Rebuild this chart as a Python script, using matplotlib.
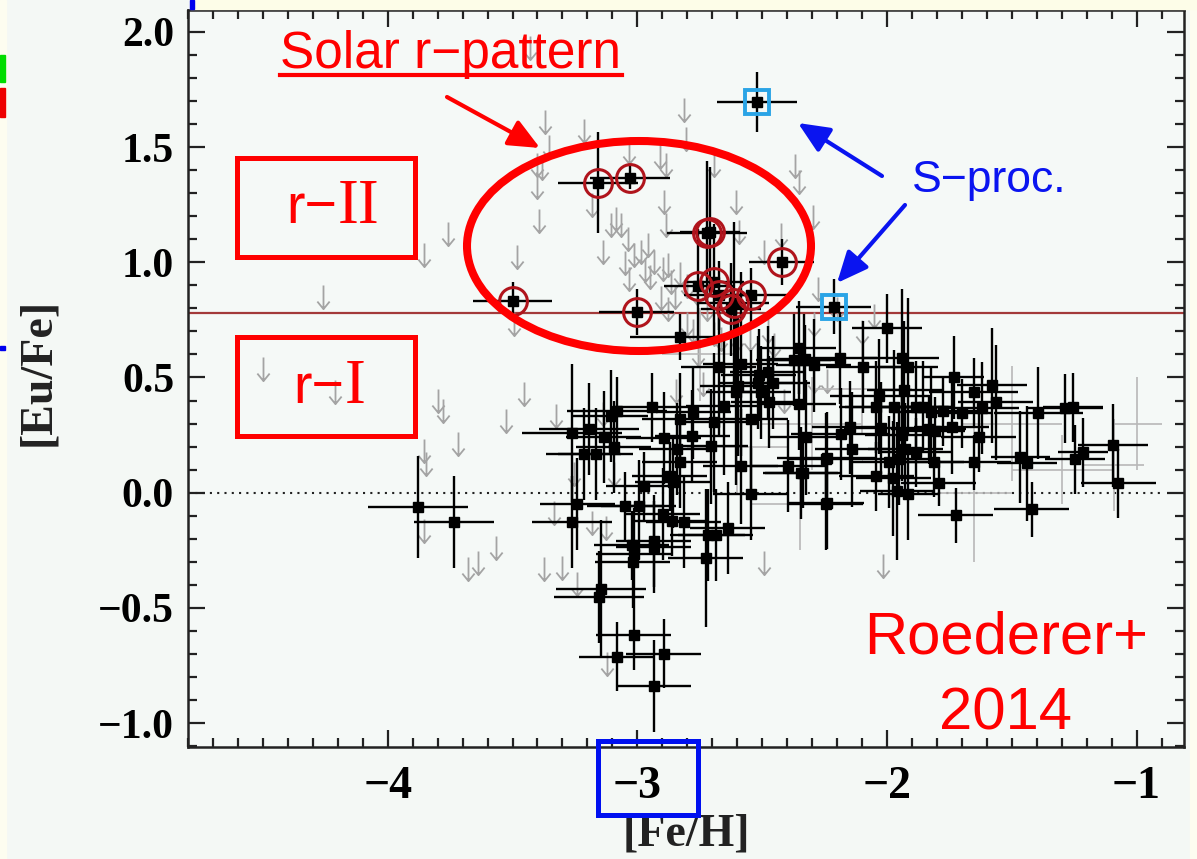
import matplotlib
matplotlib.use("Agg")
import matplotlib.pyplot as plt
from matplotlib.path import Path
from matplotlib.patches import Rectangle, Ellipse, FancyArrowPatch
from matplotlib.ticker import MultipleLocator

# ---------------- data ----------------
# detections: [Fe/H], [Eu/Fe], xerr, yerr
det_x = [-2.83, -2.0, -2.19, -2.094, -1.94, -1.917, -2.294, -2.33, -1.733, -1.653,
         -1.58, -1.565, -1.62, -1.393, -1.285, -1.253, -1.093, -1.213, -1.245, -1.073,
         -1.465, -1.44, -1.633, -1.653, -1.813, -1.793, -1.725, -1.42, -2.242, -2.242,
         -2.326, -2.338, -2.138, -2.15, -2.186, -2.042, -2.022, -2.03, -2.042, -1.97,
         -1.93, -1.885, -1.857, -1.825, -1.777, -1.70, -1.74, -1.833, -1.806, -1.938,
         -1.926, -1.885, -1.95, -1.99, -1.974, -1.958, -1.917, -3.88, -3.736, -3.26,
         -3.24, -3.26, -3.195, -3.215, -3.167, -3.135, -3.107, -3.08, -3.095, -2.943,
         -2.895, -2.83, -2.843, -2.83, -2.775, -2.78, -2.706, -2.694, -2.654, -2.606,
         -2.598, -2.518, -2.506, -2.458, -2.474, -2.546, -2.354, -2.586, -2.398, -2.346,
         -2.246, -2.246, -2.546, -2.975, -2.87, -2.859, -3.051, -2.995, -2.899, -2.863,
         -2.815, -2.718, -2.686, -2.638, -2.726, -3.023, -3.015, -3.019, -2.935, -2.935,
         -3.147, -3.155, -3.015, -3.083, -2.895, -2.935, -2.354, -2.374, -2.334, -2.674,
         -2.586, -2.514, -2.478]
det_y = [0.674, 0.713, 0.583, 0.544, 0.583, 0.544, 0.552, 0.578, 0.50, 0.435,
         0.466, 0.392, 0.366, 0.344, 0.366, 0.37, 0.205, 0.175, 0.145, 0.04,
         0.153, 0.127, 0.24, 0.132, 0.132, 0.04, -0.098, -0.072, 0.149, -0.046,
         0.24, 0.084, 0.188, 0.283, 0.253, 0.071, 0.279, 0.418, 0.37, 0.37,
         0.444, 0.37, 0.37, 0.348, 0.353, 0.344, 0.283, 0.275, 0.266, 0.249,
         0.188, 0.175, 0.145, 0.132, 0.062, 0.006, -0.007, -0.063, -0.128, 0.258,
         -0.05, -0.128, 0.275, 0.166, 0.166, 0.24, 0.331, 0.353, 0.197, 0.37,
         0.236, 0.318, 0.188, 0.132, 0.348, 0.244, 0.201, 0.305, 0.375, 0.435,
         0.461, 0.478, 0.435, 0.478, 0.392, 0.318, 0.383, 0.114, 0.114, 0.084,
         0.145, -0.05, -0.007, 0.028, 0.071, 0.045, -0.059, -0.059, -0.094, -0.124,
         -0.128, -0.185, -0.185, -0.154, -0.284, -0.228, -0.267, -0.302, -0.211, -0.237,
         -0.419, -0.453, -0.618, -0.713, -0.70, -0.839, 0.63, 0.574, 0.574, 0.544,
         0.557, 0.509, 0.522]
det_xerr = [0.20, 0.14, 0.15, 0.15, 0.15, 0.12, 0.15, 0.15, 0.12, 0.18,
            0.14, 0.15, 0.15, 0.18, 0.15, 0.12, 0.14, 0.10, 0.12, 0.15,
            0.12, 0.12, 0.15, 0.15, 0.12, 0.15, 0.15, 0.15, 0.20, 0.15,
            0.15, 0.15, 0.15, 0.15, 0.20, 0.15, 0.15, 0.20, 0.15, 0.20,
            0.15, 0.15, 0.12, 0.15, 0.15, 0.12, 0.15, 0.15, 0.12, 0.15,
            0.15, 0.15, 0.15, 0.15, 0.15, 0.15, 0.12, 0.20, 0.16, 0.20,
            0.15, 0.16, 0.20, 0.15, 0.15, 0.15, 0.15, 0.20, 0.15, 0.15,
            0.15, 0.15, 0.15, 0.15, 0.15, 0.15, 0.15, 0.15, 0.15, 0.12,
            0.15, 0.15, 0.12, 0.15, 0.15, 0.15, 0.15, 0.15, 0.15, 0.15,
            0.15, 0.15, 0.15, 0.15, 0.15, 0.15, 0.15, 0.15, 0.15, 0.15,
            0.15, 0.15, 0.15, 0.15, 0.15, 0.15, 0.15, 0.15, 0.15, 0.15,
            0.18, 0.18, 0.15, 0.15, 0.15, 0.15, 0.15, 0.15, 0.15, 0.15,
            0.15, 0.15, 0.15]
det_yerr = [0.10, 0.15, 0.20, 0.20, 0.30, 0.30, 0.20, 0.15, 0.18, 0.15,
            0.25, 0.25, 0.20, 0.20, 0.15, 0.15, 0.18, 0.15, 0.15, 0.15,
            0.20, 0.25, 0.15, 0.12, 0.15, 0.10, 0.12, 0.12, 0.20, 0.20,
            0.25, 0.15, 0.25, 0.20, 0.20, 0.15, 0.20, 0.25, 0.20, 0.25,
            0.30, 0.20, 0.20, 0.20, 0.15, 0.15, 0.20, 0.15, 0.15, 0.20,
            0.20, 0.15, 0.20, 0.20, 0.25, 0.30, 0.20, 0.22, 0.20, 0.30,
            0.20, 0.20, 0.20, 0.20, 0.20, 0.20, 0.20, 0.15, 0.20, 0.15,
            0.20, 0.20, 0.20, 0.20, 0.20, 0.20, 0.25, 0.30, 0.30, 0.40,
            0.30, 0.20, 0.20, 0.20, 0.20, 0.30, 0.20, 0.25, 0.20, 0.20,
            0.20, 0.20, 0.20, 0.15, 0.15, 0.20, 0.15, 0.20, 0.20, 0.15,
            0.20, 0.20, 0.20, 0.20, 0.30, 0.15, 0.20, 0.20, 0.20, 0.20,
            0.30, 0.20, 0.15, 0.15, 0.15, 0.20, 0.20, 0.20, 0.20, 0.30,
            0.40, 0.20, 0.20]

# r-II stars (circled)
r2_x = [-3.50, -3.159, -3.031, -2.722, -2.71, -3.003, -2.755, -2.694, -2.674, -2.614, -2.626, -2.546, -2.422]
r2_y = [0.834, 1.345, 1.367, 1.129, 1.133, 0.786, 0.895, 0.916, 0.856, 0.825, 0.795, 0.856, 1.000]
r2_xerr = [0.16, 0.16, 0.16, 0.16, 0.12, 0.15, 0.14, 0.12, 0.14, 0.14, 0.12, 0.15, 0.13]
r2_yerr = [0.08, 0.22, 0.05, 0.31, 0.28, 0.10, 0.25, 0.25, 0.15, 0.35, 0.20, 0.12, 0.10]

# s-process enriched stars (squared)
s_x = [-2.522, -2.214]
s_y = [1.697, 0.808]
s_xerr = [0.16, 0.15]
s_yerr = [0.13, 0.12]

# upper limits (top of arrow)
ul_x = [-4.26, -4.50, -4.21, -3.37, -3.355, -3.40, -3.38, -3.403, -3.395, -3.215,
        -2.815, -2.803, -2.91, -2.887, -2.895, -2.887, -3.035, -2.694, -2.606, -2.594,
        -2.354, -2.298, -3.76, -3.856, -3.483, -3.18, -3.139, -3.107, -3.087, -3.067,
        -3.039, -3.015, -2.987, -2.959, -2.935, -2.899, -2.879, -2.867, -3.035, -3.495,
        -2.907, -2.879, -2.799, -2.775, -2.494, -2.426, -2.278, -2.294, -2.478, -2.454,
        -2.694, -2.666, -2.755, -3.80, -3.78, -3.455, -3.527, -3.327, -3.72, -3.856,
        -3.848, -3.856, -3.567, -3.64, -3.68, -3.375, -3.30, -3.24, -3.12, -2.494,
        -3.335, -3.18, -3.127, -2.735, -2.847, -3.139, -3.095, -3.255, -3.095, -2.414,
        -2.294, -2.24, -2.014, -3.43, -2.83, -2.80, -2.76, -2.85, -2.72, -2.60,
        -2.55, -2.20, -2.10, -2.05, -2.37, -2.95, -2.97, -3.05]
ul_y = [0.903, 0.587, 0.49, 1.66, 1.553, 1.475, 1.46, 1.38, 1.23, 1.62,
        1.714, 1.588, 1.51, 1.475, 1.315, 1.215, 1.532, 1.475, 1.315, 1.185,
        1.402, 1.25, 1.176, 1.085, 1.077, 1.30, 1.098, 1.215, 1.241, 1.215,
        1.155, 1.085, 1.098, 1.129, 1.055, 1.025, 1.042, 0.968, 0.981, 0.782,
        0.895, 0.851, 0.782, 0.752, 1.098, 1.172, 0.938, 0.782, 0.752, 0.695,
        0.739, 0.717, 0.652, 0.448, 0.405, 0.479, 0.362, 0.383, 0.262, 0.231,
        0.175, -0.115, -0.189, -0.254, -0.28, -0.28, -0.276, -0.345, -0.692, -0.254,
        -0.037, -0.08, -0.102, 0.522, 0.492, 0.392, 0.275, 0.132, 0.132, 0.448,
        0.535, 0.535, -0.267, 1.98, 1.00, 0.95, 0.92, 0.90, 0.85, 0.72,
        0.72, 0.85, 0.75, 0.82, 1.47, 0.99, 1.02, 1.05]

# faint (grey) detections, error bars only
gr_x = [-1.09, -1.30, -1.50, -1.65, -2.10, -2.30, -2.60, -2.75, -1.00, -2.35]
gr_y = [0.12, 0.10, 0.30, 0.00, 0.45, 0.30, 0.20, 0.60, 0.30, -0.05]
gr_xerr = [0.12, 0.20, 0.20, 0.15, 0.20, 0.20, 0.20, 0.15, 0.10, 0.20]
gr_yerr = [0.20, 0.15, 0.25, 0.30, 0.20, 0.20, 0.20, 0.20, 0.20, 0.20]

x_ticks = [-4, -3, -2, -1]
y_ticks = [-1.0, -0.5, 0.0, 0.5, 1.0, 1.5, 2.0]
r_threshold = 0.78

# ---------------- figure ----------------
W, H = 1197, 859
fig = plt.figure(figsize=(W / 100, H / 100), dpi=100)
BG = '#f4f8f5'
fig.patch.set_facecolor(BG)

def fx(px):
    return px / W

def fy(py):
    return 1 - py / H

# frame strips of the slide
fig.patches.append(Rectangle((0, 0), fx(6), 1, transform=fig.transFigure, color='#fdfdf0', zorder=0))
fig.patches.append(Rectangle((fx(1190), 0), 1, 1, transform=fig.transFigure, color='#fdfdf0', zorder=0))
fig.patches.append(Rectangle((fx(190), fy(9)), 1, 1, transform=fig.transFigure, color='#fdfde8', zorder=0))
fig.patches.append(Rectangle((0, fy(82)), fx(5), 27 / H, transform=fig.transFigure, color='#00dd00', zorder=1))
fig.patches.append(Rectangle((0, fy(117)), fx(5), 29 / H, transform=fig.transFigure, color='#ee0000', zorder=1))
fig.patches.append(Rectangle((0, fy(350)), fx(5), 4 / H, transform=fig.transFigure, color='#0000ee', zorder=1))
fig.patches.append(Rectangle((fx(190), fy(9)), fx(4), 9 / H, transform=fig.transFigure, color='#0000ee', zorder=1))

ax = fig.add_axes([fx(188), fy(747), fx(1184) - fx(188), fy(10) - fy(747)])
ax.set_facecolor('#f5f9f7')
ax.set_xlim(-4.80, -0.81)
ax.set_ylim(-1.104, 2.095)

SERIF = 'Liberation Serif'
ax.set_xticks(x_ticks)
ax.set_xticklabels([f'\u2212{abs(v)}' for v in x_ticks], fontsize=33, family=SERIF, weight='bold')
ax.set_yticks(y_ticks)
ax.set_yticklabels([(f'\u2212{abs(v):.1f}' if v < 0 else f'{v:.1f}') for v in y_ticks],
                   fontsize=30, family=SERIF, weight='bold')
ax.xaxis.set_minor_locator(MultipleLocator(0.1))
ax.yaxis.set_minor_locator(MultipleLocator(0.1))
ax.tick_params(which='both', direction='in', top=True, right=True, width=1.6, color='#222222')
ax.tick_params(which='major', length=12)
ax.tick_params(which='minor', length=6.5)
ax.tick_params(axis='x', which='major', pad=14)
ax.tick_params(axis='y', which='major', pad=10)
for s in ax.spines.values():
    s.set_linewidth(1.8)
    s.set_color('#222222')

# reference lines
ax.plot([-4.80, -0.90], [0, 0], ls=(0, (1, 2.5)), color='#222222', lw=1.5, zorder=1)
ax.axhline(r_threshold, color='#a33a3a', lw=1.6, zorder=1)

# upper limit arrows
arrow_path = Path([(0, 0), (0, -1), (-0.26, -0.68), (0, -1), (0.26, -0.68)],
                  [Path.MOVETO, Path.LINETO, Path.MOVETO, Path.LINETO, Path.LINETO])
ax.plot(ul_x, ul_y, ls='none', marker=arrow_path, markersize=34, markerfacecolor='none',
        markeredgecolor='#a4a4a4', markeredgewidth=1.3, zorder=2)

# faint grey error bars
ax.errorbar(gr_x, gr_y, xerr=gr_xerr, yerr=gr_yerr, fmt='none', ecolor='#b8b8b8', elinewidth=1.2, zorder=2)

# detections
for xs, ys, xe, ye in [(det_x, det_y, det_xerr, det_yerr),
                       (r2_x, r2_y, r2_xerr, r2_yerr),
                       (s_x, s_y, s_xerr, s_yerr)]:
    ax.errorbar(xs, ys, xerr=xe, yerr=ye, fmt='s', color='black', ms=7,
                elinewidth=1.7, capsize=0, zorder=4)
ax.plot(r2_x, r2_y, ls='none', marker='o', ms=20, mfc='none', mec='#b0141c', mew=2.2, zorder=5)
ax.plot(s_x, s_y, ls='none', marker='s', ms=17, mfc='none', mec='#2aa4e6', mew=2.8, zorder=5)

# axis labels
fig.text(fx(38), fy(372), '[Eu/Fe]', rotation=90, fontsize=33, family=SERIF, weight='bold',
         ha='center', va='center', color='#222222')
fig.text(fx(686), fy(835), '[Fe/H]', fontsize=33, family=SERIF, weight='bold',
         ha='center', va='center', color='#222222')

# annotations
SANS = ['Liberation Sans', 'DejaVu Sans']
RED = '#ff0000'
BLUE = '#0a14f0'
fig.text(fx(451), fy(68), 'Solar r\u2212pattern', fontsize=37, family=SANS, color=RED,
         ha='center', va='baseline')
fig.add_artist(plt.Line2D([fx(280), fx(622)], [fy(75), fy(75)], color=RED, lw=3,
                          transform=fig.transFigure))
fig.patches.append(Ellipse((fx(639), fy(246)), 344 / W, 210 / H, transform=fig.transFigure,
                           fill=False, edgecolor=RED, lw=5.8, zorder=6))
fig.patches.append(Rectangle((fx(237), fy(257)), 178 / W, 99 / H, transform=fig.transFigure,
                             fill=False, edgecolor=RED, lw=3.6, zorder=6))
fig.patches.append(Rectangle((fx(237), fy(436)), 178 / W, 99 / H, transform=fig.transFigure,
                             fill=False, edgecolor=RED, lw=3.6, zorder=6))
# r-II / r-I labels (roman numerals with serifs as in the slide)
fig.text(fx(337), fy(223), 'r\u2212', fontsize=40, family=SANS, color=RED, ha='right', va='baseline')
fig.text(fx(338), fy(223), 'II', fontsize=45, family=SERIF, color=RED,
         ha='left', va='baseline')
fig.text(fx(344), fy(403), 'r\u2212', fontsize=40, family=SANS, color=RED, ha='right', va='baseline')
fig.text(fx(345), fy(403), 'I', fontsize=45, family=SERIF, color=RED,
         ha='left', va='baseline')
fig.text(fx(989), fy(192), 'S\u2212proc.', fontsize=32, family=SANS, color=BLUE,
         ha='center', va='baseline')
fig.text(fx(1006), fy(653), 'Roederer+', fontsize=43, family=SANS, color=RED,
         ha='center', va='baseline')
fig.text(fx(1006), fy(730), '2014', fontsize=43, family=SANS, color=RED,
         ha='center', va='baseline')

def arrow(x0, y0, x1, y1, c):
    fig.add_artist(FancyArrowPatch(
        (fx(x0), fy(y0)), (fx(x1), fy(y1)), transform=fig.transFigure,
        arrowstyle='-|>,head_length=0.9,head_width=0.4', mutation_scale=21,
        color=c, lw=3, shrinkA=0, shrinkB=0, zorder=7))

arrow(447, 97, 540, 148, RED)
arrow(882, 176, 798, 123, BLUE)
arrow(905, 205, 837, 283, BLUE)

# blue box on the -3 tick label
fig.patches.append(Rectangle((fx(598), fy(815)), 100 / W, 74 / H, transform=fig.transFigure,
                             fill=False, edgecolor='#0010f0', lw=3.6, zorder=6))

fig.savefig('out.png', dpi=100, facecolor=fig.get_facecolor())
